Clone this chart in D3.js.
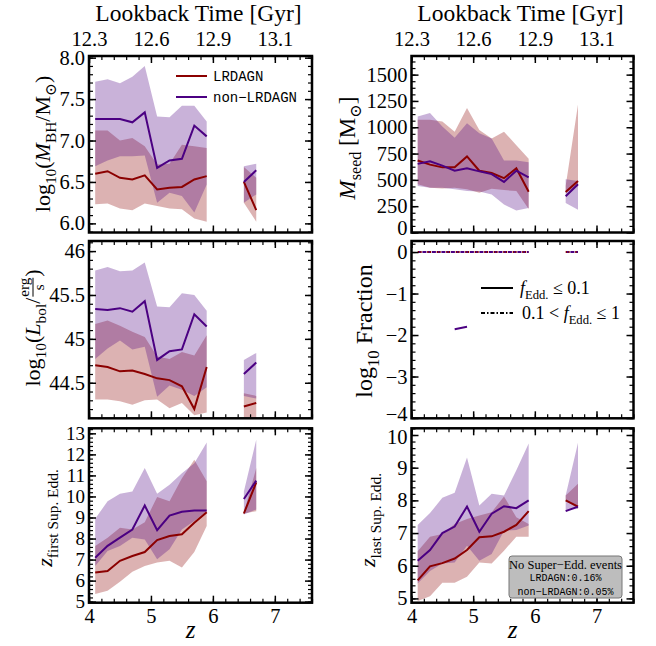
<!DOCTYPE html>
<html>
<head>
<meta charset="utf-8">
<script src="https://cdn.jsdelivr.net/npm/d3@7"></script>
<style>
  body { margin: 0; background: #fff; }
  svg text { font-family: "Liberation Serif", "DejaVu Serif", serif; fill: #000; }
  svg text.mono { font-family: "Liberation Mono", "DejaVu Sans Mono", monospace; }
</style>
</head>
<body>
<div id="chart"></div>
<script>
// redshift bins (6.1 and 6.3 are empty)
const zBins = [4.1, 4.3, 4.5, 4.7, 4.9, 5.1, 5.3, 5.5, 5.7, 5.9, 6.1, 6.3, 6.5, 6.7];
const zTicks = [4, 5, 6, 7];
const lookbackLabels = ["12.3", "12.6", "12.9", "13.1"];

// log10 M_BH
const mbhRedMed = [6.60, 6.63, 6.55, 6.53, 6.58, 6.41, 6.43, 6.44, 6.53, 6.57, null, null, 6.50, 6.16];
const mbhRedLo  = [6.23, 6.24, 6.18, 6.16, 6.24, 6.21, 6.18, 6.17, 6.06, 6.02, null, null, 6.25, 6.02];
const mbhRedHi  = [7.12, 7.12, 7.00, 7.03, 6.93, 6.71, 6.72, 6.95, 6.93, 6.91, null, null, 6.68, 6.55];
const mbhPurMed = [7.26, 7.26, 7.26, 7.22, 7.34, 6.67, 6.76, 6.78, 7.18, 7.05, null, null, 6.50, 6.64];
const mbhPurLo  = [6.69, 6.76, 6.81, 6.81, 6.82, 6.25, 6.37, 6.33, 6.13, 6.47, null, null, 6.25, 6.35];
const mbhPurHi  = [7.71, 7.74, 7.69, 7.77, 7.90, 7.29, 7.28, 7.42, 7.42, 7.23, null, null, 6.69, 6.72];

// seed mass
const seedRedMed = [684, 645, 619, 619, 723, 587, 565, 516, 610, 387, null, null, 384, 490];
const seedRedLo  = [458, 426, 419, 426, 410, 377, 416, 403, 394, 223, null, null, 377, 442];
const seedRedHi  = [1071, 1071, 1055, 958, 1184, 974, 894, 958, 829, 700, null, null, 442, 1216];
const seedPurMed = [652, 677, 635, 587, 610, 581, 555, 481, 587, 523, null, null, 345, 458];
const seedPurLo  = [442, 426, 426, 410, 394, 390, 361, 265, 210, 232, null, null, 281, 216];
const seedPurHi  = [1103, 1135, 1006, 900, 1039, 942, 894, 684, 684, 668, null, null, 506, 490];

// log10 L_bol
const lbolRedMed = [44.70, 44.68, 44.63, 44.64, 44.60, 44.55, 44.53, 44.46, 44.20, 44.68, null, null, 44.23, 44.27];
const lbolRedLo  = [44.31, 44.31, 44.29, 44.25, 44.30, 44.31, 44.21, 44.27, 44.13, 44.16, null, null, 43.90, 43.90];
const lbolRedHi  = [45.17, 45.21, 45.15, 45.08, 45.02, 44.80, 44.77, 44.85, 44.81, 45.04, null, null, 44.38, 44.35];
const lbolPurMed = [45.34, 45.33, 45.35, 45.31, 45.43, 44.76, 44.86, 44.88, 45.28, 45.14, null, null, 44.60, 44.73];
const lbolPurLo  = [44.77, 44.89, 44.98, 44.88, 44.91, 44.34, 44.47, 44.42, 44.35, 44.45, null, null, 44.35, 44.32];
const lbolPurHi  = [45.78, 45.82, 45.77, 45.78, 45.87, 45.37, 45.36, 45.52, 45.50, 45.32, null, null, 44.76, 44.84];

// log10 fraction of accretion regimes
const fracLowRed = [null, null, null, null, null, null, null, null, null, null, null, null, null, null];
const fracLowPur = [null, null, null, -1.86, -1.80, null, null, null, null, null, null, null, null, null];
const fracMidRed = [0, 0, 0, 0, 0, 0, 0, 0, 0, 0, null, null, 0, 0];
const fracMidPur = [0, 0, 0, 0, 0, 0, 0, 0, 0, 0, null, null, 0, 0];

// redshift of first super-Eddington event
const firstRedMed = [6.39, 6.46, 6.94, 7.17, 7.36, 7.93, 8.12, 8.20, 8.75, 9.25, null, null, 9.19, 10.67];
const firstRedLo  = [5.36, 5.52, 5.94, 6.42, 6.70, 6.86, 6.94, 6.62, 7.36, 8.59, null, null, 9.19, 9.30];
const firstRedHi  = [7.65, 8.04, 8.51, 8.43, 8.78, 9.98, 9.77, 10.87, 11.74, 10.72, null, null, 9.22, 11.35];
const firstPurMed = [7.09, 7.65, 8.04, 8.43, 9.57, 8.40, 9.09, 9.27, 9.33, 9.33, null, null, 9.88, 10.75];
const firstPurLo  = [6.70, 7.41, 7.65, 8.04, 7.96, 7.02, 7.49, 8.43, 8.83, 9.30, null, null, 9.14, 9.38];
const firstPurHi  = [8.94, 9.77, 10.13, 10.24, 11.35, 10.13, 10.56, 11.10, 11.58, 12.56, null, null, 10.24, 12.70];

// redshift of last super-Eddington event
const lastRedMed = [5.55, 5.98, 6.08, 6.22, 6.48, 6.87, 6.90, 7.04, 7.25, 7.67, null, null, 8.00, 7.81];
const lastRedLo  = [4.92, 5.07, 5.48, 5.48, 5.66, 6.10, 6.07, 6.46, 6.89, 6.89, null, null, 8.00, 7.74];
const lastRedHi  = [6.44, 6.89, 6.97, 7.28, 7.43, 7.54, 7.64, 8.12, 7.48, 7.28, null, null, 8.15, 8.51];
const lastPurMed = [6.15, 6.48, 7.00, 7.20, 7.81, 7.04, 7.59, 7.82, 7.76, 8.00, null, null, 7.67, 7.81];
const lastPurLo  = [5.46, 5.84, 6.07, 6.10, 6.61, 6.15, 6.36, 7.07, 7.09, 7.23, null, null, 7.69, 7.74];
const lastPurHi  = [7.25, 7.61, 8.08, 8.23, 9.31, 7.84, 8.20, 8.15, 8.92, 9.74, null, null, 8.15, 9.76];

const redColor = "#8b0000";
const purColor = "#4b0082";

const width = 656, height = 646;
const svg = d3.select("#chart").append("svg")
  .attr("width", width)
  .attr("height", height);

const cols = [{ x0: 89, w: 223 }, { x0: 411.5, w: 222 }];
const rows = [{ y0: 56, h: 176.5 }, { y0: 241, h: 177.3 }, { y0: 428.3, h: 174.4 }];

const panels = [
  { col: 0, row: 0, dom: [5.89, 8.02], major: [6, 6.5, 7, 7.5, 8], minor: 0.1, fmt: d3.format(".1f"),
    bands: [[mbhRedLo, mbhRedHi], [mbhPurLo, mbhPurHi]], meds: [mbhRedMed, mbhPurMed] },
  { col: 1, row: 0, dom: [0, 1677], major: [0, 250, 500, 750, 1000, 1250, 1500], minor: 62.5, fmt: d3.format("d"),
    bands: [[seedRedLo, seedRedHi], [seedPurLo, seedPurHi]], meds: [seedRedMed, seedPurMed] },
  { col: 0, row: 1, dom: [44.095, 46.115], major: [44.5, 45, 45.5, 46], minor: 0.1, fmt: d => String(d),
    bands: [[lbolRedLo, lbolRedHi], [lbolPurLo, lbolPurHi]], meds: [lbolRedMed, lbolPurMed] },
  { col: 1, row: 1, dom: [-4.007, 0.266], major: [-4, -3, -2, -1, 0], minor: 0.2, fmt: d3.format("d"),
    bands: [], meds: [], fractions: true },
  { col: 0, row: 2, dom: [4.95, 13.24], major: d3.range(5, 14), minor: 0.2, fmt: d3.format("d"),
    bands: [[firstRedLo, firstRedHi], [firstPurLo, firstPurHi]], meds: [firstRedMed, firstPurMed] },
  { col: 1, row: 2, dom: [4.869, 10.205], major: d3.range(5, 11), minor: 0.2, fmt: d3.format("d"),
    bands: [[lastRedLo, lastRedHi], [lastPurLo, lastPurHi]], meds: [lastRedMed, lastPurMed] }
];

const idx = d3.range(zBins.length);
const colors = [redColor, purColor];
const tickFont = 20.5;

function minorTicks(dom, step) {
  const out = [];
  const start = Math.ceil(dom[0] / step - 1e-6);
  for (let k = start; k * step <= dom[1] + 1e-9; k++) out.push(+(k * step).toFixed(4));
  return out;
}

function styleAxis(g, width) {
  g.select(".domain").remove();
  g.selectAll(".tick line").attr("stroke", "#000").attr("stroke-width", width);
}

panels.forEach((p, pi) => {
  const c = cols[p.col], r = rows[p.row];
  const x = d3.scaleLinear().domain([4, 7.6]).range([c.x0, c.x0 + c.w]);
  const y = d3.scaleLinear().domain(p.dom).range([r.y0 + r.h, r.y0]);

  const clipId = "clip" + pi;
  svg.append("clipPath").attr("id", clipId)
    .append("rect").attr("x", c.x0).attr("y", r.y0).attr("width", c.w).attr("height", r.h);
  const plot = svg.append("g").attr("clip-path", `url(#${clipId})`);

  // shaded percentile bands
  p.bands.forEach((b, k) => {
    const area = d3.area()
      .defined(i => b[0][i] != null)
      .x(i => x(zBins[i]))
      .y0(i => y(b[0][i]))
      .y1(i => y(b[1][i]));
    plot.append("path").attr("d", area(idx))
      .attr("fill", colors[k]).attr("fill-opacity", 0.3).attr("stroke", "none");
  });

  // medians
  p.meds.forEach((m, k) => {
    const line = d3.line().defined(i => m[i] != null).x(i => x(zBins[i])).y(i => y(m[i]));
    plot.append("path").attr("d", line(idx))
      .attr("fill", "none").attr("stroke", colors[k]).attr("stroke-width", 2);
  });

  if (p.fractions) {
    [[fracLowRed, fracMidRed], [fracLowPur, fracMidPur]].forEach((pair, k) => {
      const lowLine = d3.line().defined(i => pair[0][i] != null).x(i => x(zBins[i])).y(i => y(pair[0][i]));
      plot.append("path").attr("d", lowLine(idx))
        .attr("fill", "none").attr("stroke", colors[k]).attr("stroke-width", 2);
      const midLine = d3.line().defined(i => pair[1][i] != null).x(i => x(zBins[i])).y(i => y(pair[1][i]));
      plot.append("path").attr("d", midLine(idx))
        .attr("fill", "none").attr("stroke", colors[k]).attr("stroke-width", 2)
        .attr("stroke-dasharray", "4,2,1.5,2")
        .attr("stroke-dashoffset", k * 4.75);
    });
  }

  // axes: ticks inward on all four sides
  const bottomY = r.y0 + r.h, topY = r.y0;
  const xMinor = minorTicks([4, 7.6], 0.2);
  const yMinor = minorTicks(p.dom, p.minor);

  const bottom = svg.append("g").attr("transform", `translate(0,${bottomY})`)
    .call(d3.axisBottom(x).tickValues(zTicks).tickSize(-7).tickPadding(6)
      .tickFormat(p.row === 2 ? d3.format("d") : ""));
  styleAxis(bottom, 1.5);
  bottom.selectAll("text").attr("font-size", tickFont);
  const bottomMinor = svg.append("g").attr("transform", `translate(0,${bottomY})`)
    .call(d3.axisBottom(x).tickValues(xMinor).tickSize(-4).tickFormat(""));
  styleAxis(bottomMinor, 1.2);

  const top = svg.append("g").attr("transform", `translate(0,${topY})`)
    .call(d3.axisTop(x).tickValues(zTicks).tickSize(-7).tickPadding(10)
      .tickFormat((d, i) => p.row === 0 ? lookbackLabels[i] : ""));
  styleAxis(top, 1.5);
  top.selectAll("text").attr("font-size", 20.5);
  const topMinor = svg.append("g").attr("transform", `translate(0,${topY})`)
    .call(d3.axisTop(x).tickValues(xMinor).tickSize(-4).tickFormat(""));
  styleAxis(topMinor, 1.2);

  const left = svg.append("g").attr("transform", `translate(${c.x0},0)`)
    .call(d3.axisLeft(y).tickValues(p.major).tickSize(-7).tickPadding(4).tickFormat(p.fmt));
  styleAxis(left, 1.5);
  // the densely ticked z_first axis gets slightly smaller labels
  left.selectAll("text").attr("font-size", p.col === 0 && p.row === 2 ? 19 : tickFont);
  // right column: keep the labels at panel joins from colliding
  if (p.col === 1) {
    left.selectAll(".tick text").attr("dy", d => {
      if (Math.abs(y(d) - (r.y0 + r.h)) < 2) return "0.1em";
      if (Math.abs(y(d) - r.y0) < 8) return "0.42em";
      return "0.32em";
    });
  }
  const leftMinor = svg.append("g").attr("transform", `translate(${c.x0},0)`)
    .call(d3.axisLeft(y).tickValues(yMinor).tickSize(-4).tickFormat(""));
  styleAxis(leftMinor, 1.2);

  const right = svg.append("g").attr("transform", `translate(${c.x0 + c.w},0)`)
    .call(d3.axisRight(y).tickValues(p.major).tickSize(-7).tickFormat(""));
  styleAxis(right, 1.5);
  const rightMinor = svg.append("g").attr("transform", `translate(${c.x0 + c.w},0)`)
    .call(d3.axisRight(y).tickValues(yMinor).tickSize(-4).tickFormat(""));
  styleAxis(rightMinor, 1.2);

  svg.append("rect").attr("x", c.x0).attr("y", r.y0).attr("width", c.w).attr("height", r.h)
    .attr("fill", "none").attr("stroke", "#000").attr("stroke-width", 2.5);
});

// rich text helper: parts with sub / italic
function rich(text, parts, size) {
  let shift = 0;
  parts.forEach(pt => {
    const target = pt.sub ? size * 0.28 : 0;
    const ts = text.append("tspan").attr("dy", target - shift)
      .attr("font-size", pt.sub ? size * 0.7 : size)
      .text(pt.t);
    if (pt.it) ts.attr("font-style", "italic");
    shift = target;
  });
  return text;
}

// rotated y labels
function yLabel(cx, cy, parts, size) {
  const g = svg.append("g").attr("transform", `translate(${cx},${cy}) rotate(-90)`);
  rich(g.append("text").attr("text-anchor", "middle"), parts, size);
  return g;
}

yLabel(50, 144, [{ t: "log" }, { t: "10", sub: true }, { t: "(" }, { t: "M", it: true }, { t: "BH", sub: true },
  { t: "/M" }, { t: "⊙", sub: true }, { t: ")" }], 22);
yLabel(355, 148, [{ t: "M", it: true }, { t: "seed", sub: true }, { t: " [M" }, { t: "⊙", sub: true }, { t: "]" }], 23);
yLabel(372, 331, [{ t: "log" }, { t: "10", sub: true }, { t: " Fraction" }], 24);
yLabel(52, 518, [{ t: "z", it: true }, { t: "first Sup. Edd.", sub: true }], 22);
yLabel(375, 520, [{ t: "z", it: true }, { t: "last Sup. Edd.", sub: true }], 22);

// L_bol label with a small fraction erg/s
(function () {
  const g = svg.append("g").attr("transform", `translate(40,328) rotate(-90)`);
  const main = rich(g.append("text"), [{ t: "log" }, { t: "10", sub: true }, { t: "(" }, { t: "L", it: true },
    { t: "bol", sub: true }, { t: "/" }], 22);
  const L = main.node().getComputedTextLength();
  const fx = L + 1;
  const num = g.append("text").attr("x", fx).attr("y", -11).attr("font-size", 15).text("erg");
  const fw = num.node().getComputedTextLength();
  g.append("line").attr("x1", fx).attr("x2", fx + fw).attr("y1", -7).attr("y2", -7)
    .attr("stroke", "#000").attr("stroke-width", 1);
  g.append("text").attr("x", fx + fw / 2).attr("y", 4).attr("font-size", 15).attr("text-anchor", "middle").text("s");
  const close = g.append("text").attr("x", fx + fw + 1).attr("y", 0).attr("font-size", 22).text(")");
  const total = fx + fw + 1 + close.node().getComputedTextLength();
  g.selectAll("text").each(function () {
    const el = d3.select(this);
    el.attr("x", (+el.attr("x") || 0) - total / 2);
  });
  g.select("line").attr("x1", fx - total / 2).attr("x2", fx + fw - total / 2);
})();

// x labels and top titles
[0, 1].forEach(ci => {
  const c = cols[ci];
  svg.append("text").attr("x", c.x0 + c.w / 2 - 10).attr("y", 638).attr("text-anchor", "middle")
    .attr("font-size", 25).attr("font-style", "italic").text("z");
  svg.append("text").attr("x", c.x0 + c.w / 2 - 2).attr("y", 21).attr("text-anchor", "middle")
    .attr("font-size", 23.5).text("Lookback Time [Gyr]");
});

// legend, top-left panel
const legend = svg.append("g");
[["LRDAGN", redColor, 76], ["non−LRDAGN", purColor, 97]].forEach(([label, col, ly]) => {
  legend.append("line").attr("x1", 176).attr("x2", 207).attr("y1", ly).attr("y2", ly)
    .attr("stroke", col).attr("stroke-width", 2);
  legend.append("text").attr("class", "mono").attr("x", 213).attr("y", ly + 4.5)
    .attr("font-size", 14).text(label);
});

// legend, fraction panel
const fl = svg.append("g");
fl.append("line").attr("x1", 481).attr("x2", 513).attr("y1", 288).attr("y2", 288)
  .attr("stroke", "#000").attr("stroke-width", 2);
rich(fl.append("text").attr("x", 520).attr("y", 294), [{ t: "f", it: true }, { t: "Edd.", sub: true }, { t: " ≤ 0.1" }], 18);
fl.append("line").attr("x1", 481).attr("x2", 513).attr("y1", 313).attr("y2", 313)
  .attr("stroke", "#000").attr("stroke-width", 2).attr("stroke-dasharray", "4,2,1.5,2");
rich(fl.append("text").attr("x", 522).attr("y", 319), [{ t: "0.1 < " }, { t: "f", it: true }, { t: "Edd.", sub: true }, { t: " ≤ 1" }], 18);

// info box
const box = svg.append("g");
box.append("rect").attr("x", 509).attr("y", 556).attr("width", 113).attr("height", 42).attr("rx", 3)
  .attr("fill", "#bdbdbd").attr("stroke", "#777").attr("stroke-width", 1);
box.append("text").attr("x", 565.5).attr("y", 569).attr("text-anchor", "middle").attr("font-size", 12.5)
  .text("No Super−Edd. events");
box.append("text").attr("class", "mono").attr("x", 565.5).attr("y", 580.5).attr("text-anchor", "middle")
  .attr("font-size", 10).text("LRDAGN:0.16%");
box.append("text").attr("class", "mono").attr("x", 565.5).attr("y", 595).attr("text-anchor", "middle")
  .attr("font-size", 10).text("non−LRDAGN:0.05%");
</script>
</body>
</html>
